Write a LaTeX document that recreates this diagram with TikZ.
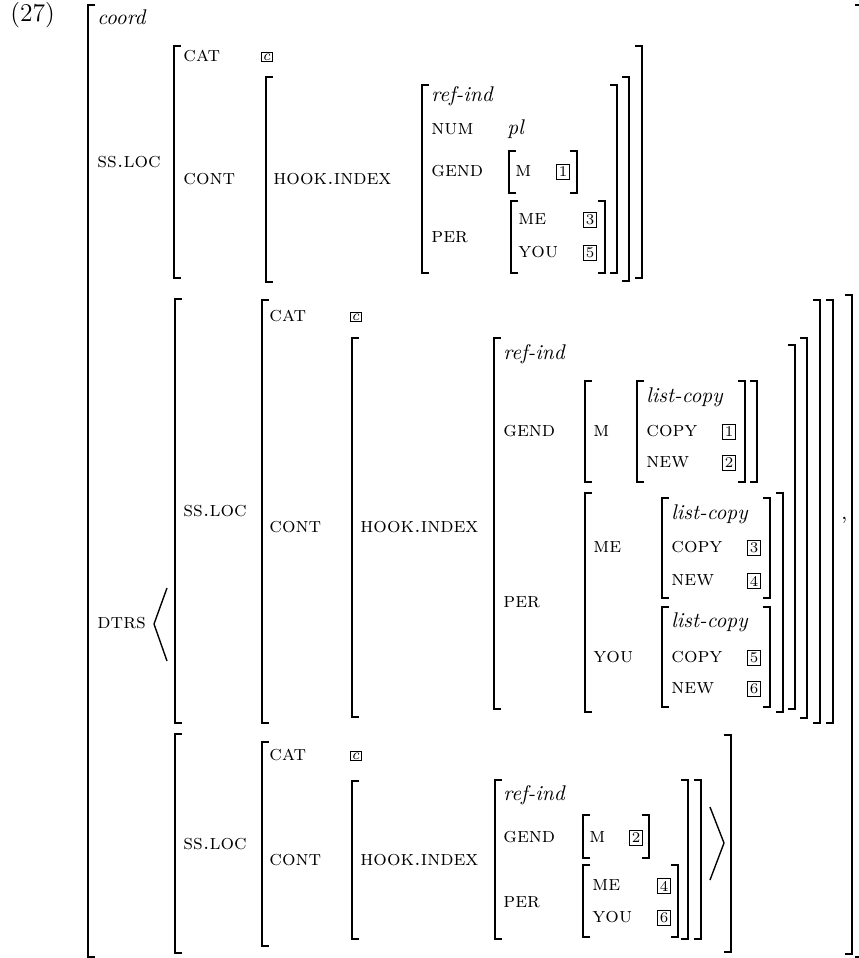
\documentclass[tikz,border=0pt]{standalone}
\usepackage{tikz}
\usetikzlibrary{positioning}
\tikzset{
  feat/.style={anchor=mid west, inner sep=0pt, font=\scshape},
  sorte/.style={anchor=mid west, inner sep=0pt, font=\itshape},
  tagbox/.style={draw, line width=0.4pt, inner sep=1.1pt, font=\scriptsize},
  ctag/.style={draw, line width=0.4pt, inner sep=0.7pt, font=\scriptsize\itshape},
  brk/.style={line width=0.65pt}
}
\begin{document}
\begin{tikzpicture}[x=0.47pt,y=-0.47pt]
  \useasboundingbox (0,0) rectangle (859,958);
  \clip (0,0) rectangle (859,958);
  % left brackets: x/top/bottom
  \foreach \x/\t/\b in {88/5/957, 174/46/278, 266/77/282, 422/85/273, 509/151/193, 511/201/273,
      175/299/723, 262/300/723, 352/338/717, 494/338/709, 585/381/482, 637/381/482,
      585/493/712, 662/498/598, 662/607/707,
      175/734/953, 262/742/946, 352/781/939, 495/780/939, 583/815/858, 583/865/937} {
    \draw[brk] (\x+7,\t) -- (\x,\t) -- (\x,\b) -- (\x+7,\b);
  }
  % right brackets
  \foreach \x/\t/\b in {577/151/193, 605/201/273, 617/85/273, 629/77/281, 642/46/278,
      745/381/482, 757/381/482, 770/498/598, 770/607/707, 783/493/712, 795/345/709,
      807/338/718, 820/300/723, 833/300/723, 852/295/954,
      649/815/858, 678/865/937, 688/780/939, 701/780/939, 731/735/952, 862/5/957} {
    \draw[brk] (\x-7,\t) -- (\x,\t) -- (\x,\b) -- (\x-7,\b);
  }
  % list brackets
  \draw[brk] (167,588) -- (154,624) -- (167,661);
  \draw[brk] (710,807) -- (724,843) -- (710,880);

  \node[anchor=mid west, inner sep=0pt, font=\large] (exno) at (10,17) {(27)};
  \node[sorte] (coord) at (97,20) {coord};
  % mother
  \node[feat] (m-ssloc) at (97,163) {ss.loc};
  \node[feat] (m-cat) at (183,57) {cat};
  \node[ctag] (m-c) at (266.5,57) {c};
  \node[feat] (m-cont) at (183,180) {cont};
  \node[feat] (m-hook) at (273,180) {hook.index};
  \node[sorte] (m-ref) at (431,97) {ref-ind};
  \node[feat] (m-num) at (431,130) {num};
  \node[sorte] (m-pl) at (507,130) {pl};
  \node[feat] (m-gend) at (431,172) {gend};
  \node[feat] (m-m) at (515,172) {m};
  \node[tagbox] (m-t1) at (563,172) {1};
  \node[feat] (m-per) at (431,238) {per};
  \node[feat] (m-me) at (518,220) {me};
  \node[tagbox] (m-t3) at (590,220) {3};
  \node[feat] (m-you) at (518,253) {you};
  \node[tagbox] (m-t5) at (590,253) {5};
  % first daughter
  \node[feat] (dtrs) at (97,624) {dtrs};
  \node[feat] (a-ssloc) at (183,512) {ss.loc};
  \node[feat] (a-cat) at (269,317) {cat};
  \node[ctag] (a-c) at (355.5,317) {c};
  \node[feat] (a-cont) at (269,528) {cont};
  \node[feat] (a-hook) at (360,528) {hook.index};
  \node[sorte] (a-ref) at (503,355) {ref-ind};
  \node[feat] (a-gend) at (503,432) {gend};
  \node[feat] (a-m) at (593,432) {m};
  \node[sorte] (a-mlc) at (646,398) {list-copy};
  \node[feat] (a-mcopy) at (646,432) {copy};
  \node[tagbox] (a-t1) at (729,432) {1};
  \node[feat] (a-mnew) at (646,463) {new};
  \node[tagbox] (a-t2) at (729,463) {2};
  \node[feat] (a-per) at (503,603) {per};
  \node[feat] (a-me) at (593,548) {me};
  \node[sorte] (a-melc) at (671,515) {list-copy};
  \node[feat] (a-mecopy) at (671,548) {copy};
  \node[tagbox] (a-t3) at (754,548) {3};
  \node[feat] (a-menew) at (671,581) {new};
  \node[tagbox] (a-t4) at (754,581) {4};
  \node[feat] (a-you) at (593,658) {you};
  \node[sorte] (a-youlc) at (671,623) {list-copy};
  \node[feat] (a-youcopy) at (671,658) {copy};
  \node[tagbox] (a-t5) at (754,658) {5};
  \node[feat] (a-younew) at (671,689) {new};
  \node[tagbox] (a-t6) at (754,689) {6};
  \node[anchor=base west, inner sep=0pt] (comma) at (841,519) {,};
  % second daughter
  \node[feat] (b-ssloc) at (183,845) {ss.loc};
  \node[feat] (b-cat) at (269,756) {cat};
  \node[ctag] (b-c) at (355.5,756) {c};
  \node[feat] (b-cont) at (269,861) {cont};
  \node[feat] (b-hook) at (360,861) {hook.index};
  \node[sorte] (b-ref) at (503,796) {ref-ind};
  \node[feat] (b-gend) at (503,838) {gend};
  \node[feat] (b-m) at (589,838) {m};
  \node[tagbox] (b-t2) at (636,838) {2};
  \node[feat] (b-per) at (503,903) {per};
  \node[feat] (b-me) at (592,886) {me};
  \node[tagbox] (b-t4) at (664,886) {4};
  \node[feat] (b-you) at (592,918) {you};
  \node[tagbox] (b-t6) at (664,918) {6};
\end{tikzpicture}
\end{document}
